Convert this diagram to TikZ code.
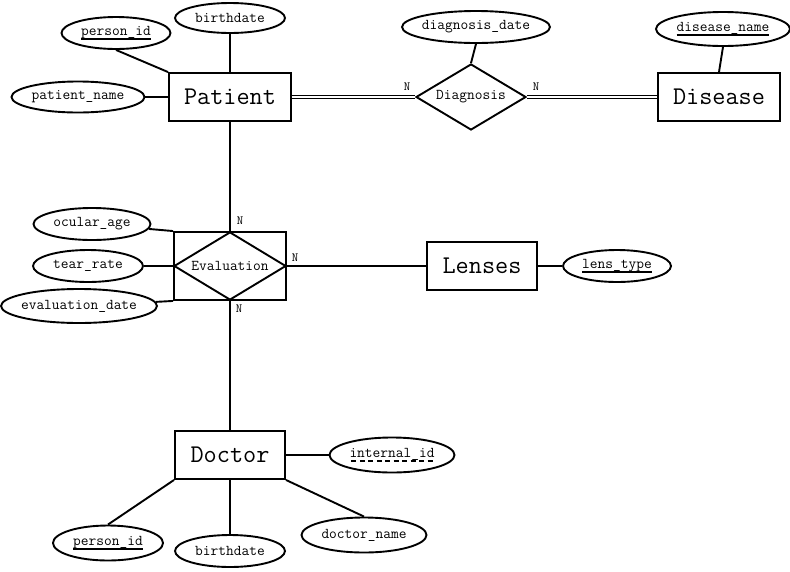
\documentclass[tikz,border=0pt]{standalone}
\usepackage{fontspec}
\usetikzlibrary{shapes.geometric}
\newcommand\myul[1]{{\setbox0\hbox{#1}\rlap{\rule[-4.5pt]{\wd0}{1.5pt}}\box0}}
\newcommand\mydul[1]{{\setbox0\hbox{#1}\rlap{\hbox to\wd0{\xleaders\hbox to 8pt{\hss\rule[-4.5pt]{5pt}{1.5pt}\hss}\hfil}}\box0}}
\begin{document}
\begin{tikzpicture}[x=1pt,y=-1pt,line width=1.9pt,
  ent/.style={draw,rectangle,inner sep=0,font=\ttfamily\fontsize{25.5}{27}\selectfont},
  attr/.style={draw,ellipse,inner ysep=0,inner xsep=-6pt,minimum height=32pt,font=\ttfamily\fontsize{15}{16}\selectfont},
  rel/.style={draw,diamond,inner sep=0,font=\ttfamily\fontsize{15}{16}\selectfont},
  card/.style={inner sep=0,font=\ttfamily\fontsize{12.5}{13}\selectfont},
  dbl/.style={double,double distance=2.2pt,line width=1.3pt}]
\useasboundingbox (0,0) rectangle (790,571);
% Patient
\node[ent,minimum width=122pt,minimum height=48pt] (patient) at (230,97) {Patient};
\node[attr,minimum width=110pt,minimum height=30pt] (bd1) at (230,18) {birthdate};
\node[attr,minimum width=109pt] (pid1) at (116,33) {\myul{person\_id}};
\node[attr,minimum width=133pt,minimum height=31pt] (pn) at (78,97) {patient\_name};
\draw (pid1.south) -- (patient.north west);
\draw (bd1) -- (patient);
\draw (pn) -- (patient);
% Diagnosis
\node[rel,minimum width=110pt,minimum height=66pt,aspect=1.67] (diag) at (471,97) {Diagnosis};
\node[attr,minimum width=148pt] (dd) at (476,27) {diagnosis\_date};
\draw (dd.south) -- (diag.north);
\node[ent,minimum width=122pt,minimum height=48pt] (disease) at (719,97) {Disease};
\node[attr,minimum width=134pt,minimum height=34pt] (dname) at (723,29) {\myul{disease\_name}};
\draw (dname.south) -- (disease.north);
\draw[dbl] (patient) -- (diag.west);
\draw[dbl] (diag.east) -- (disease);
\node[card] (n1) at (407,87) {N};
\node[card] (n2) at (536,87) {N};
% Evaluation
\node[draw,rectangle,minimum width=112pt,minimum height=68pt,inner sep=0] (evbox) at (230,266) {};
\node[rel,minimum width=112pt,minimum height=68pt,aspect=1.65] (evd) at (230,266) {Evaluation};
\draw (patient) -- (evbox.north);
\node[attr,minimum width=117pt] (oa) at (92,224) {ocular\_age};
\node[attr,minimum width=110pt] (tr) at (88,266) {tear\_rate};
\node[attr,minimum width=156pt,minimum height=34pt] (edate) at (79,306) {evaluation\_date};
\draw (oa) -- (evbox.north west);
\draw (tr) -- (evbox.west);
\draw (edate) -- (evbox.south west);
\node[card] (n3) at (240,221) {N};
\node[card] (n4) at (295,258) {N};
\node[card] (n5) at (239,309) {N};
% Lenses
\node[ent,minimum width=110pt,minimum height=48pt] (lenses) at (482,266) {Lenses};
\node[attr,minimum width=108pt] (lt) at (617,266) {\myul{lens\_type}};
\draw (evd.east) -- (lenses);
\draw (lenses) -- (lt);
% Doctor
\node[ent,minimum width=110pt,minimum height=48pt] (doctor) at (230,455) {Doctor};
\draw (evd.south) -- (doctor);
\node[attr,minimum width=125pt,minimum height=35pt] (iid) at (392,455) {\mydul{internal\_id}};
\node[attr,minimum width=110pt,minimum height=35pt] (pid2) at (108,543) {\myul{person\_id}};
\node[attr,minimum width=110pt] (bd2) at (230,551) {birthdate};
\node[attr,minimum width=125pt,minimum height=35pt] (dname2) at (364,535) {doctor\_name};
\draw (doctor) -- (iid);
\draw (doctor.south west) -- (pid2.north);
\draw (doctor) -- (bd2);
\draw (doctor.south east) -- (dname2.north);
\end{tikzpicture}
\end{document}
